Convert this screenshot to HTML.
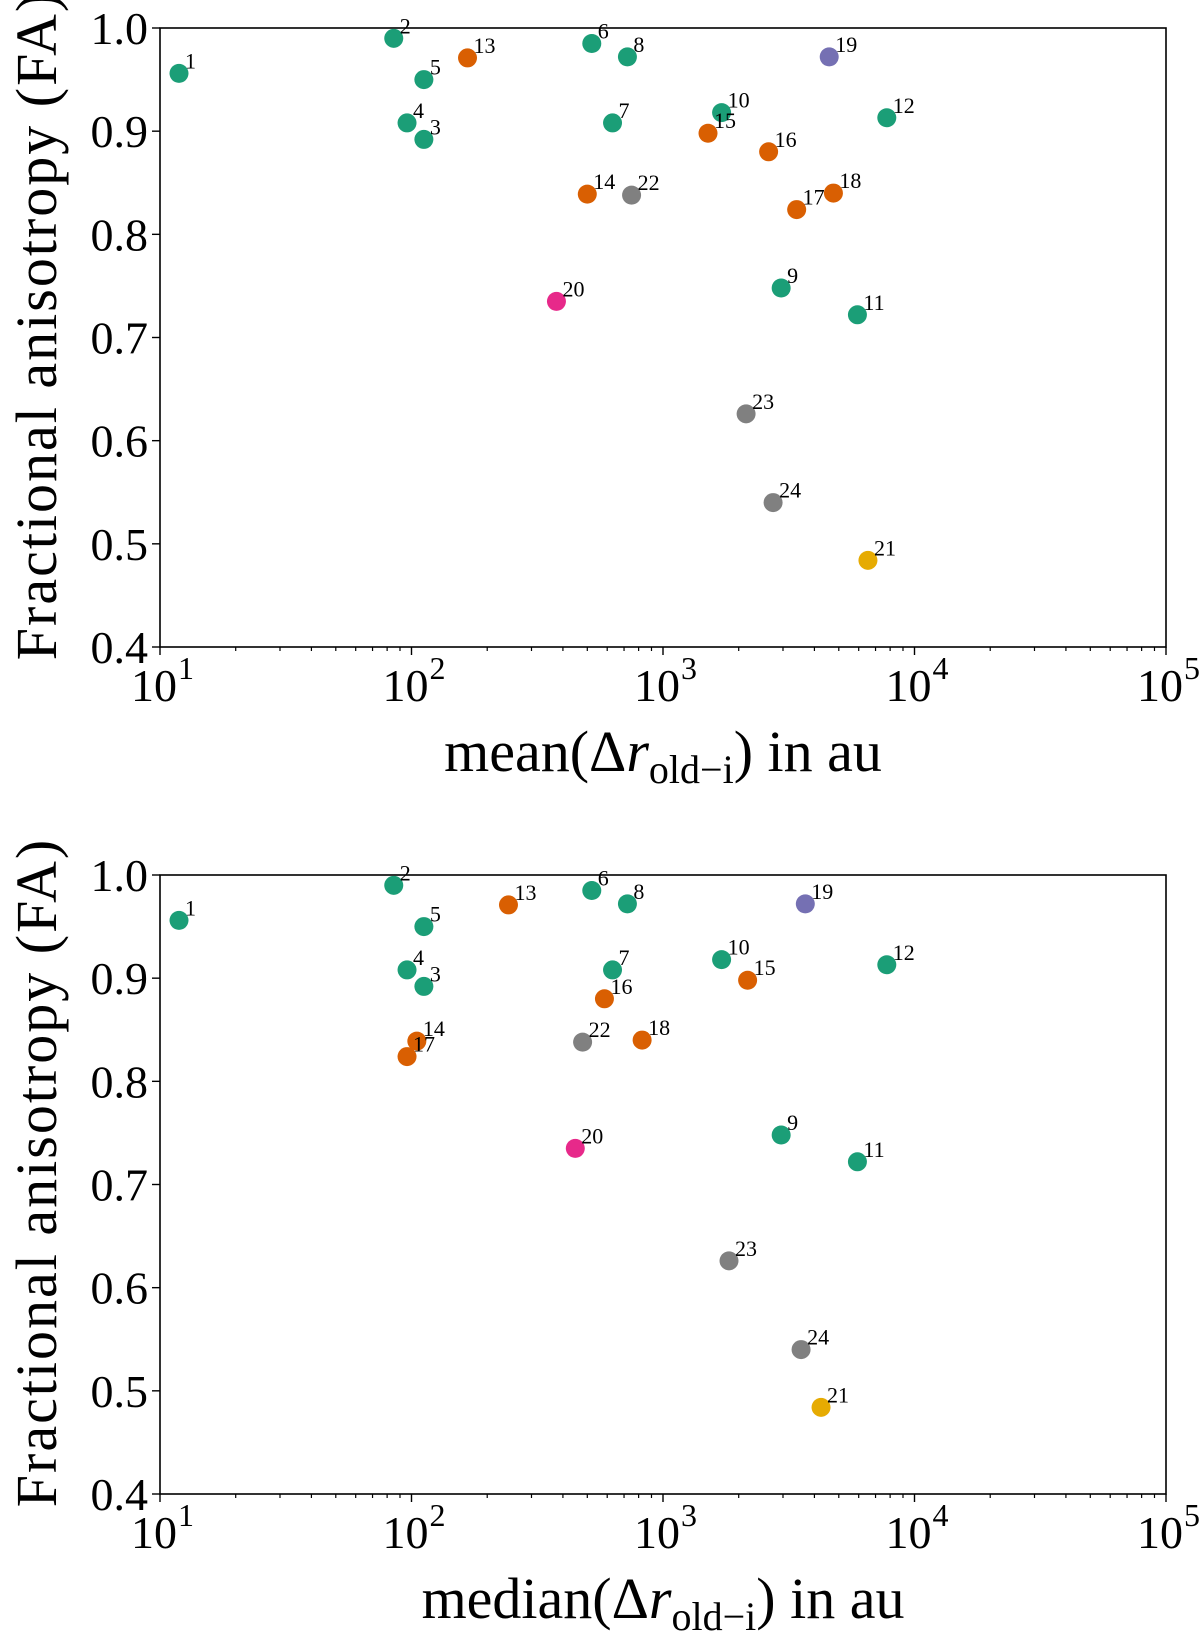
<!DOCTYPE html>
<html><head><meta charset="utf-8"><style>
html,body{margin:0;padding:0;background:#fff;}
svg{display:block;font-family:"Liberation Serif",serif;}
</style></head><body>
<svg id="fig" width="1200" height="1638" viewBox="0 0 1200 1638" xmlns="http://www.w3.org/2000/svg"></svg>
<script>
const ids = [1,2,3,4,5,6,7,8,9,10,11,12,13,14,15,16,17,18,19,20,21,22,23,24];
const groups = ['a','a','a','a','a','a','a','a','a','a','a','a','b','b','b','b','b','b','c','d','e','f','f','f'];
const faValues = [0.956,0.990,0.892,0.908,0.950,0.985,0.908,0.972,0.748,0.918,0.722,0.913,0.971,0.839,0.898,0.880,0.824,0.840,0.972,0.735,0.484,0.838,0.626,0.540];
const meanValues = [11.9,85,112,96,112,521,630,722,2950,1710,5930,7760,167,500,1510,2630,3400,4760,4580,377,6530,750,2140,2740];
const medianValues = [11.9,85,112,96,112,521,630,722,2950,1710,5930,7760,243,105,2170,585,96,826,3680,448,4250,479,1830,3540];
const xTickExps = [1,2,3,4,5];
const yTickLabels = ['0.4','0.5','0.6','0.7','0.8','0.9','1.0'];
const groupColors = {a:'#1b9e77',b:'#d95f02',c:'#7570b3',d:'#e7298a',e:'#e6ab02',f:'#808080'};

const NS='http://www.w3.org/2000/svg';
const svg=document.getElementById('fig');
function mk(tag,attrs,parent){const e=document.createElementNS(NS,tag);for(const k in attrs)e.setAttribute(k,attrs[k]);(parent||svg).appendChild(e);return e;}

function panel(name,top,bottom,xvals,labelMain,labelY){
  const L=160,R=1166,T=top,B=bottom;
  const g=mk('g',{});
  
  
  const xs=v=>L+(Math.log10(v)-1)/4*(R-L);
  const ys=v=>B-(v-0.4)/0.6*(B-T);
  const fr=mk('rect',{x:L,y:T,width:R-L,height:B-T,fill:'none',stroke:'#000','stroke-width':1.6},g);
  
  
  for(let d=1;d<5;d++){for(let m=2;m<10;m++){const x=xs(m*Math.pow(10,d));
    const t=mk('line',{x1:x,x2:x,y1:B,y2:B+4,stroke:'#000','stroke-width':1.2},g);
    
    }}
  xTickExps.forEach(e=>{const x=xs(Math.pow(10,e));
    const t=mk('line',{x1:x,x2:x,y1:B,y2:B+8,stroke:'#000','stroke-width':1.4},g);
    
    
    const tx=mk('text',{x:x-6,y:B+54,'font-size':46,'text-anchor':'middle'},g);
    
    
    tx.textContent='10';
    const sp=mk('text',{x:x+18,y:B+32,'font-size':32},g);
    
    
    sp.textContent=String(e);
  });
  yTickLabels.forEach(s=>{const y=ys(parseFloat(s));
    const t=mk('line',{x1:L-8,x2:L,y1:y,y2:y,stroke:'#000','stroke-width':1.4},g);
    
    
    const tx=mk('text',{x:L-12,y:y+16,'font-size':46,'text-anchor':'end'},g);
    
    
    tx.textContent=s;
  });
  const yt=mk('text',{x:0,y:0,'font-size':58,'letter-spacing':2,'text-anchor':'middle',transform:`translate(56,${(T+B)/2-12}) rotate(-90)`},g);
  
  
  yt.textContent=labelY;
  const xt=mk('text',{x:(L+R)/2,y:B+124,'font-size':58,'text-anchor':'middle'},g);
  
  
  const a=mk('tspan',{},xt);a.textContent=labelMain+'(Δ';
  const b=mk('tspan',{'font-style':'italic'},xt);b.textContent='r';
  const c=mk('tspan',{'font-size':40,dy:12},xt);c.textContent='old−i';
  const d=mk('tspan',{dy:-12},xt);d.textContent=') in au';
  ids.forEach((id,i)=>{const cx=xs(xvals[i]),cy=ys(faValues[i]);
    const p=mk('circle',{cx:cx,cy:cy,r:9.5,fill:groupColors[groups[i]]},g);
    
    
    const l=mk('text',{x:cx+6,y:cy-5,'font-size':22},g);
    
    
    l.textContent=String(id);
  });
}
panel('mean-scatter-panel',28,647,meanValues,'mean','Fractional anisotropy (FA)');
panel('median-scatter-panel',875,1494,medianValues,'median','Fractional anisotropy (FA)');
</script>
</body></html>
